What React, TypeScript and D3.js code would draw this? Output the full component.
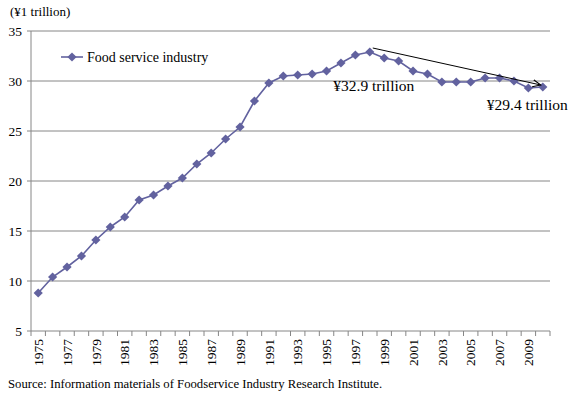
import React from "react";
import * as d3 from "d3";

const years: number[] = [
  1975, 1976, 1977, 1978, 1979, 1980, 1981, 1982, 1983, 1984, 1985, 1986,
  1987, 1988, 1989, 1990, 1991, 1992, 1993, 1994, 1995, 1996, 1997, 1998,
  1999, 2000, 2001, 2002, 2003, 2004, 2005, 2006, 2007, 2008, 2009, 2010,
];
const values: number[] = [
  8.8, 10.4, 11.4, 12.5, 14.1, 15.4, 16.4, 18.1, 18.6, 19.5, 20.3, 21.7,
  22.8, 24.2, 25.4, 28.0, 29.8, 30.5, 30.6, 30.7, 31.0, 31.8, 32.6, 32.9,
  32.3, 32.0, 31.0, 30.7, 29.9, 29.9, 29.9, 30.3, 30.3, 30.0, 29.3, 29.4,
];
const yTicks: number[] = [5, 10, 15, 20, 25, 30, 35];
const seriesName = "Food service industry";
const peakLabel = "¥32.9 trillion";
const endLabel = "¥29.4 trillion";
const peakYear = 1998;
const endYear = 2010;
const unitLabel = "(¥1 trillion)";
const sourceText =
  "Source: Information materials of Foodservice Industry Research Institute.";

const W = 572;
const H = 396;
const margin = { left: 31, right: 22, top: 31, bottom: 65 };
const font = "'Liberation Serif', 'Times New Roman', serif";
const seriesColor = "#62629f";
const gridColor = "#868686";

export default function App() {
  const x = d3
    .scaleBand<string>()
    .domain(years.map(String))
    .range([margin.left, W - margin.right])
    .padding(0);
  const y = d3
    .scaleLinear()
    .domain([5, 35])
    .range([H - margin.bottom, margin.top]);
  const cx = (yr: number) => (x(String(yr)) as number) + x.bandwidth() / 2;

  const line = d3
    .line<number>()
    .x((_, i) => cx(years[i]))
    .y((d) => y(d));
  const r = 4.6;
  const diamond = `M0,${-r}L${r},0L0,${r}L${-r},0Z`;

  const x0 = margin.left;
  const x1 = W - margin.right;
  const yBottom = y(5);

  const peakVal = values[years.indexOf(peakYear)];
  const endVal = values[years.indexOf(endYear)];
  const ax1 = cx(peakYear) + 3;
  const ay1 = y(peakVal) - 4;
  const ax2 = cx(endYear) - 2;
  const ay2 = y(endVal) - 2;

  return (
    <svg
      width={W}
      height={H}
      style={{ position: "absolute", left: 0, top: 0, background: "#fff" }}
      fontFamily={font}
    >
      <defs>
        <marker
          id="arrowHead"
          viewBox="0 0 10 10"
          refX="9"
          refY="5"
          markerWidth="9"
          markerHeight="9"
          orient="auto"
          markerUnits="userSpaceOnUse"
        >
          <path d="M0,1 L9,5 L0,9" fill="none" stroke="#000" strokeWidth={1.2} />
        </marker>
      </defs>
      {yTicks.map((t) => (
        <g key={t}>
          {t !== 5 && (
            <line x1={x0} x2={x1} y1={y(t)} y2={y(t)} stroke={gridColor} strokeWidth={1} />
          )}
          <line x1={x0 - 4} x2={x0} y1={y(t)} y2={y(t)} stroke={gridColor} strokeWidth={1} />
          <text
            x={x0 - 9}
            y={y(t)}
            dy="0.35em"
            textAnchor="end"
            fontSize={13.5}
            fill="#000"
          >
            {t}
          </text>
        </g>
      ))}
      <line x1={x0} x2={x0} y1={y(35)} y2={yBottom} stroke={gridColor} strokeWidth={1} />
      <line x1={x0} x2={x1} y1={yBottom} y2={yBottom} stroke={gridColor} strokeWidth={1} />
      {years.map((yr) => (
        <line
          key={"t" + yr}
          x1={x(String(yr)) as number}
          x2={x(String(yr)) as number}
          y1={yBottom}
          y2={yBottom + 5}
          stroke={gridColor}
        />
      ))}
      <line x1={x1} x2={x1} y1={yBottom} y2={yBottom + 5} stroke={gridColor} />
      {years
        .filter((yr) => (yr - 1975) % 2 === 0)
        .map((yr) => (
          <text
            key={"l" + yr}
            transform={`translate(${cx(yr)},${yBottom + 8}) rotate(-90)`}
            textAnchor="end"
            dy="0.35em"
            fontSize={13.5}
            fill="#000"
          >
            {yr}
          </text>
        ))}
      <path d={line(values) as string} fill="none" stroke={seriesColor} strokeWidth={1.6} />
      {values.map((v, i) => (
        <path
          key={"m" + i}
          d={diamond}
          transform={`translate(${cx(years[i])},${y(v)})`}
          fill={seriesColor}
        />
      ))}
      <line x1={61} x2={83} y1={57} y2={57} stroke={seriesColor} strokeWidth={1.6} />
      <path d={diamond} transform="translate(72,57)" fill={seriesColor} />
      <text x={87} y={62} fontSize={14} fill="#000">
        {seriesName}
      </text>
      <line
        x1={ax1}
        y1={ay1}
        x2={ax2}
        y2={ay2}
        stroke="#000"
        strokeWidth={1}
        markerEnd="url(#arrowHead)"
      />
      <text x={cx(peakYear) + 4} y={y(peakVal) + 39} textAnchor="middle" fontSize={15.5} fill="#000">
        {peakLabel}
      </text>
      <text x={cx(endYear) + 25} y={y(endVal) + 23} textAnchor="end" fontSize={15.5} fill="#000">
        {endLabel}
      </text>
      <text x={10} y={16} fontSize={13} fill="#000">
        {unitLabel}
      </text>
      <text x={8} y={388} fontSize={12.7} fill="#000">
        {sourceText}
      </text>
    </svg>
  );
}
